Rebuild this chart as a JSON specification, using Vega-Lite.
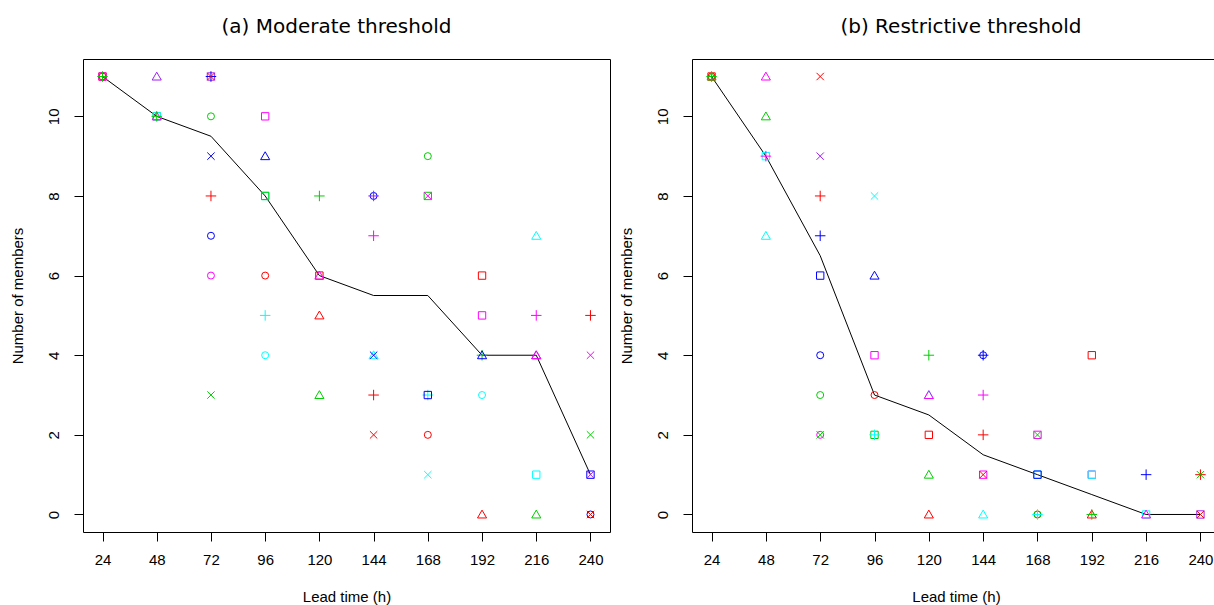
{
 "$schema": "https://vega.github.io/schema/vega-lite/v6.json",
 "background": "white",
 "padding": {"left": 9, "top": 16, "right": 0, "bottom": 0},
 "spacing": 7,
 "config": {
  "view": {"stroke": "black", "strokeWidth": 1},
  "axis": {"grid": false, "domain": false, "tickColor": "black", "tickSize": 9, "labelFont": "Liberation Sans", "labelFontSize": 15, "labelColor": "black", "titleFont": "Liberation Sans", "titleFontSize": 15, "titleFontWeight": "normal", "titleColor": "black"},
  "axisX": {"labelPadding": 11, "titlePadding": 22},
  "axisY": {"labelAngle": -90, "labelAlign": "center", "labelBaseline": "alphabetic", "labelPadding": 16, "titlePadding": 21},
  "title": {"font": "DejaVu Sans", "fontSize": 20, "fontWeight": "normal", "color": "black", "offset": 22}
 },
 "datasets": {
  "medA": [
   {"lead": 24, "n": 11}, {"lead": 48, "n": 10}, {"lead": 72, "n": 9.5}, {"lead": 96, "n": 8}, {"lead": 120, "n": 6},
   {"lead": 144, "n": 5.5}, {"lead": 168, "n": 5.5}, {"lead": 192, "n": 4}, {"lead": 216, "n": 4}, {"lead": 240, "n": 1}
  ],
  "medB": [
   {"lead": 24, "n": 11}, {"lead": 48, "n": 9}, {"lead": 72, "n": 6.5}, {"lead": 96, "n": 3}, {"lead": 120, "n": 2.5},
   {"lead": 144, "n": 1.5}, {"lead": 168, "n": 1}, {"lead": 192, "n": 0.5}, {"lead": 216, "n": 0}, {"lead": 240, "n": 0}
  ],
  "ptsA": [
   {"lead": 24, "n": 11, "shape": "circle", "colour": "red"},
   {"lead": 24, "n": 11, "shape": "square", "colour": "red"},
   {"lead": 24, "n": 11, "shape": "square", "colour": "magenta"},
   {"lead": 24, "n": 11, "shape": "plus", "colour": "green"},
   {"lead": 48, "n": 11, "shape": "triangle", "colour": "purple"},
   {"lead": 48, "n": 10, "shape": "square", "colour": "green"},
   {"lead": 48, "n": 10, "shape": "square", "colour": "cyan"},
   {"lead": 48, "n": 10, "shape": "triangle", "colour": "magenta"},
   {"lead": 48, "n": 10, "shape": "plus", "colour": "green"},
   {"lead": 72, "n": 11, "shape": "square", "colour": "purple"},
   {"lead": 72, "n": 11, "shape": "plus", "colour": "blue"},
   {"lead": 72, "n": 11, "shape": "x", "colour": "red"},
   {"lead": 72, "n": 10, "shape": "circle", "colour": "green"},
   {"lead": 72, "n": 9, "shape": "x", "colour": "blue"},
   {"lead": 72, "n": 8, "shape": "plus", "colour": "red"},
   {"lead": 72, "n": 7, "shape": "circle", "colour": "blue"},
   {"lead": 72, "n": 6, "shape": "circle", "colour": "magenta"},
   {"lead": 72, "n": 3, "shape": "x", "colour": "green"},
   {"lead": 96, "n": 10, "shape": "square", "colour": "magenta"},
   {"lead": 96, "n": 9, "shape": "triangle", "colour": "blue"},
   {"lead": 96, "n": 8, "shape": "square", "colour": "cyan"},
   {"lead": 96, "n": 8, "shape": "square", "colour": "green"},
   {"lead": 96, "n": 6, "shape": "circle", "colour": "red"},
   {"lead": 96, "n": 5, "shape": "plus", "colour": "cyan"},
   {"lead": 96, "n": 4, "shape": "circle", "colour": "cyan"},
   {"lead": 120, "n": 8, "shape": "plus", "colour": "green"},
   {"lead": 120, "n": 6, "shape": "square", "colour": "red"},
   {"lead": 120, "n": 6, "shape": "triangle", "colour": "magenta"},
   {"lead": 120, "n": 5, "shape": "triangle", "colour": "red"},
   {"lead": 120, "n": 3, "shape": "triangle", "colour": "green"},
   {"lead": 144, "n": 8, "shape": "circle", "colour": "blue"},
   {"lead": 144, "n": 8, "shape": "plus", "colour": "purple"},
   {"lead": 144, "n": 7, "shape": "plus", "colour": "magenta"},
   {"lead": 144, "n": 4, "shape": "triangle", "colour": "cyan"},
   {"lead": 144, "n": 4, "shape": "x", "colour": "blue"},
   {"lead": 144, "n": 3, "shape": "plus", "colour": "red"},
   {"lead": 144, "n": 2, "shape": "x", "colour": "red"},
   {"lead": 168, "n": 9, "shape": "circle", "colour": "green"},
   {"lead": 168, "n": 8, "shape": "square", "colour": "green"},
   {"lead": 168, "n": 8, "shape": "x", "colour": "magenta"},
   {"lead": 168, "n": 3, "shape": "plus", "colour": "cyan"},
   {"lead": 168, "n": 3, "shape": "square", "colour": "blue"},
   {"lead": 168, "n": 2, "shape": "circle", "colour": "red"},
   {"lead": 168, "n": 1, "shape": "x", "colour": "cyan"},
   {"lead": 192, "n": 6, "shape": "square", "colour": "red"},
   {"lead": 192, "n": 5, "shape": "square", "colour": "magenta"},
   {"lead": 192, "n": 4, "shape": "plus", "colour": "green"},
   {"lead": 192, "n": 4, "shape": "triangle", "colour": "blue"},
   {"lead": 192, "n": 3, "shape": "circle", "colour": "cyan"},
   {"lead": 192, "n": 0, "shape": "triangle", "colour": "red"},
   {"lead": 216, "n": 7, "shape": "triangle", "colour": "cyan"},
   {"lead": 216, "n": 5, "shape": "plus", "colour": "magenta"},
   {"lead": 216, "n": 4, "shape": "triangle", "colour": "purple"},
   {"lead": 216, "n": 4, "shape": "triangle", "colour": "magenta"},
   {"lead": 216, "n": 1, "shape": "square", "colour": "cyan"},
   {"lead": 216, "n": 0, "shape": "triangle", "colour": "green"},
   {"lead": 240, "n": 5, "shape": "plus", "colour": "red"},
   {"lead": 240, "n": 4, "shape": "x", "colour": "magenta"},
   {"lead": 240, "n": 2, "shape": "x", "colour": "green"},
   {"lead": 240, "n": 1, "shape": "square", "colour": "blue"},
   {"lead": 240, "n": 1, "shape": "x", "colour": "purple"},
   {"lead": 240, "n": 0, "shape": "circle", "colour": "blue"},
   {"lead": 240, "n": 0, "shape": "x", "colour": "red"}
  ],
  "ptsB": [
   {"lead": 24, "n": 11, "shape": "square", "colour": "red"},
   {"lead": 24, "n": 11, "shape": "circle", "colour": "red"},
   {"lead": 24, "n": 11, "shape": "triangle", "colour": "green"},
   {"lead": 24, "n": 11, "shape": "plus", "colour": "green"},
   {"lead": 48, "n": 11, "shape": "triangle", "colour": "magenta"},
   {"lead": 48, "n": 10, "shape": "triangle", "colour": "green"},
   {"lead": 48, "n": 9, "shape": "square", "colour": "cyan"},
   {"lead": 48, "n": 9, "shape": "plus", "colour": "magenta"},
   {"lead": 48, "n": 7, "shape": "triangle", "colour": "cyan"},
   {"lead": 72, "n": 11, "shape": "x", "colour": "red"},
   {"lead": 72, "n": 9, "shape": "x", "colour": "purple"},
   {"lead": 72, "n": 8, "shape": "plus", "colour": "red"},
   {"lead": 72, "n": 7, "shape": "plus", "colour": "blue"},
   {"lead": 72, "n": 6, "shape": "square", "colour": "blue"},
   {"lead": 72, "n": 4, "shape": "circle", "colour": "blue"},
   {"lead": 72, "n": 3, "shape": "circle", "colour": "green"},
   {"lead": 72, "n": 2, "shape": "circle", "colour": "magenta"},
   {"lead": 72, "n": 2, "shape": "x", "colour": "green"},
   {"lead": 96, "n": 8, "shape": "x", "colour": "cyan"},
   {"lead": 96, "n": 6, "shape": "triangle", "colour": "blue"},
   {"lead": 96, "n": 4, "shape": "square", "colour": "magenta"},
   {"lead": 96, "n": 3, "shape": "circle", "colour": "red"},
   {"lead": 96, "n": 2, "shape": "square", "colour": "green"},
   {"lead": 96, "n": 2, "shape": "plus", "colour": "cyan"},
   {"lead": 120, "n": 4, "shape": "plus", "colour": "green"},
   {"lead": 120, "n": 3, "shape": "triangle", "colour": "cyan"},
   {"lead": 120, "n": 3, "shape": "triangle", "colour": "magenta"},
   {"lead": 120, "n": 2, "shape": "square", "colour": "red"},
   {"lead": 120, "n": 1, "shape": "triangle", "colour": "green"},
   {"lead": 120, "n": 0, "shape": "triangle", "colour": "red"},
   {"lead": 144, "n": 4, "shape": "circle", "colour": "blue"},
   {"lead": 144, "n": 4, "shape": "plus", "colour": "blue"},
   {"lead": 144, "n": 3, "shape": "plus", "colour": "magenta"},
   {"lead": 144, "n": 2, "shape": "plus", "colour": "red"},
   {"lead": 144, "n": 1, "shape": "square", "colour": "magenta"},
   {"lead": 144, "n": 1, "shape": "x", "colour": "red"},
   {"lead": 144, "n": 0, "shape": "triangle", "colour": "cyan"},
   {"lead": 168, "n": 2, "shape": "square", "colour": "magenta"},
   {"lead": 168, "n": 2, "shape": "x", "colour": "green"},
   {"lead": 168, "n": 1, "shape": "square", "colour": "cyan"},
   {"lead": 168, "n": 1, "shape": "square", "colour": "blue"},
   {"lead": 168, "n": 0, "shape": "circle", "colour": "red"},
   {"lead": 168, "n": 0, "shape": "circle", "colour": "green"},
   {"lead": 168, "n": 0, "shape": "plus", "colour": "cyan"},
   {"lead": 192, "n": 4, "shape": "square", "colour": "red"},
   {"lead": 192, "n": 1, "shape": "square", "colour": "magenta"},
   {"lead": 192, "n": 1, "shape": "square", "colour": "cyan"},
   {"lead": 192, "n": 0, "shape": "triangle", "colour": "red"},
   {"lead": 192, "n": 0, "shape": "plus", "colour": "green"},
   {"lead": 216, "n": 1, "shape": "plus", "colour": "blue"},
   {"lead": 216, "n": 0, "shape": "square", "colour": "cyan"},
   {"lead": 216, "n": 0, "shape": "triangle", "colour": "magenta"},
   {"lead": 240, "n": 1, "shape": "plus", "colour": "red"},
   {"lead": 240, "n": 1, "shape": "x", "colour": "green"},
   {"lead": 240, "n": 0, "shape": "square", "colour": "purple"},
   {"lead": 240, "n": 0, "shape": "x", "colour": "red"}
  ]
 },
 "hconcat": [
  {
   "title": {"text": "(a) Moderate threshold", "dx": -10},
   "width": 527,
   "height": 473,
   "layer": [
    {
     "data": {"name": "medA"},
     "mark": {"type": "line", "color": "black", "strokeWidth": 1},
     "encoding": {
      "x": {"field": "lead", "type": "quantitative", "scale": {"domain": [15.36, 248.64], "nice": false, "zero": false}, "axis": {"values": [24, 48, 72, 96, 120, 144, 168, 192, 216, 240], "title": "Lead time (h)"}},
      "y": {"field": "n", "type": "quantitative", "scale": {"domain": [-0.44, 11.44], "nice": false, "zero": false}, "axis": {"values": [0, 2, 4, 6, 8, 10], "title": "Number of members"}}
     }
    },
    {
     "data": {"name": "ptsA"},
     "mark": {"type": "point", "filled": false, "size": 49, "strokeWidth": 1, "opacity": 1},
     "encoding": {
      "x": {"field": "lead", "type": "quantitative"},
      "y": {"field": "n", "type": "quantitative"},
      "shape": {"field": "shape", "type": "nominal", "scale": {"domain": ["square", "circle", "triangle", "plus", "x"], "range": ["M-1.05,-1.05L1.05,-1.05L1.05,1.05L-1.05,1.05Z", "circle", "M0,-1.25L1.3,1L-1.3,1Z", "M-1.5,0L1.5,0M0,-1.5L0,1.5", "M-1.05,-1.05L1.05,1.05M-1.05,1.05L1.05,-1.05"]}, "legend": null},
      "color": {"field": "colour", "type": "nominal", "scale": {"domain": ["red", "green", "blue", "cyan", "magenta", "purple"], "range": ["#FF0000", "#00CD00", "#0000FF", "#00FFFF", "#FF00FF", "#A020F0"]}, "legend": null}
     }
    }
   ]
  },
  {
   "title": {"text": "(b) Restrictive threshold", "dx": 5},
   "width": 528,
   "height": 473,
   "layer": [
    {
     "data": {"name": "medB"},
     "mark": {"type": "line", "color": "black", "strokeWidth": 1},
     "encoding": {
      "x": {"field": "lead", "type": "quantitative", "scale": {"domain": [15.36, 248.64], "nice": false, "zero": false}, "axis": {"values": [24, 48, 72, 96, 120, 144, 168, 192, 216, 240], "title": "Lead time (h)"}},
      "y": {"field": "n", "type": "quantitative", "scale": {"domain": [-0.44, 11.44], "nice": false, "zero": false}, "axis": {"values": [0, 2, 4, 6, 8, 10], "title": "Number of members"}}
     }
    },
    {
     "data": {"name": "ptsB"},
     "mark": {"type": "point", "filled": false, "size": 49, "strokeWidth": 1, "opacity": 1},
     "encoding": {
      "x": {"field": "lead", "type": "quantitative"},
      "y": {"field": "n", "type": "quantitative"},
      "shape": {"field": "shape", "type": "nominal", "scale": {"domain": ["square", "circle", "triangle", "plus", "x"], "range": ["M-1.05,-1.05L1.05,-1.05L1.05,1.05L-1.05,1.05Z", "circle", "M0,-1.25L1.3,1L-1.3,1Z", "M-1.5,0L1.5,0M0,-1.5L0,1.5", "M-1.05,-1.05L1.05,1.05M-1.05,1.05L1.05,-1.05"]}, "legend": null},
      "color": {"field": "colour", "type": "nominal", "scale": {"domain": ["red", "green", "blue", "cyan", "magenta", "purple"], "range": ["#FF0000", "#00CD00", "#0000FF", "#00FFFF", "#FF00FF", "#A020F0"]}, "legend": null}
     }
    }
   ]
  }
 ]
}
